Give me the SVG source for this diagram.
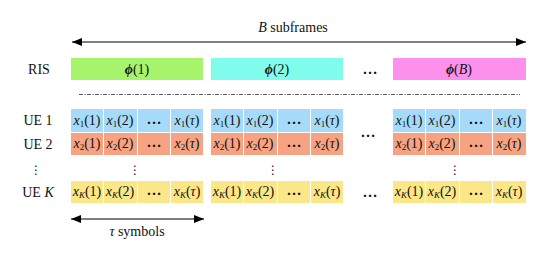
<svg xmlns="http://www.w3.org/2000/svg" width="549" height="263" viewBox="0 0 549 263">
<defs>
<marker id="ah" viewBox="0 0 10 8" refX="10" refY="4" markerWidth="10" markerHeight="8" markerUnits="userSpaceOnUse" orient="auto-start-reverse">
<path d="M0,0 L10,4 L0,8 Z" fill="#000"/>
</marker>
</defs>
<style>
text{font-family:"Liberation Serif","DejaVu Serif",serif;fill:#111}
.lbl{font-size:14px}
.c{font-size:14px;text-anchor:middle}
.i{font-style:italic}
.sub{font-size:9px}
.u1{fill:#a5dbf8}
.u2{fill:#f6a383}
.uk{fill:#fbe688}
.el{font-size:15px;text-anchor:middle;font-weight:bold}
.dots{font-family:"DejaVu Sans",sans-serif;font-size:12px;text-anchor:middle}
.arr{stroke:#000;stroke-width:1.2;fill:none;marker-start:url(#ah);marker-end:url(#ah)}
</style>
<rect width="549" height="263" fill="#fff"/>

<g id="connectors">
<line class="arr" x1="72" y1="42" x2="526" y2="42"/>
<line class="arr" x1="71" y1="219" x2="204" y2="219"/>
<line x1="79" y1="94.5" x2="520" y2="94.5" stroke="#555" stroke-width="1" stroke-dasharray="4 1.5 1 1.5"/>
</g>

<g id="labels">
<text class="lbl" x="293" y="32" text-anchor="middle"><tspan class="i">B</tspan> subframes</text>
<text class="lbl" x="137" y="236" text-anchor="middle"><tspan class="i">τ</tspan> symbols</text>
<text class="lbl" x="39" y="74" text-anchor="middle">RIS</text>
<text class="lbl" x="38" y="125" text-anchor="middle">UE 1</text>
<text class="lbl" x="38" y="149" text-anchor="middle">UE 2</text>
<text class="dots" x="36" y="174">⋮</text>
<text class="lbl" x="38" y="197" text-anchor="middle">UE <tspan class="i">K</tspan></text>
<text class="el" x="370" y="74">…</text>
<text class="el" x="368" y="137">…</text>
<text class="el" x="370" y="197">…</text>
</g>

<g id="ris">
<rect x="71" y="58" width="132" height="22" fill="#a6f46b"/>
<text class="c" x="137" y="74"><tspan font-weight="bold" class="i">ϕ</tspan>(1)</text>
<rect x="211" y="58" width="132" height="22" fill="#80fcec"/>
<text class="c" x="277" y="74"><tspan font-weight="bold" class="i">ϕ</tspan>(2)</text>
<rect x="393" y="58" width="133" height="22" fill="#fd90ec"/>
<text class="c" x="459" y="74"><tspan font-weight="bold" class="i">ϕ</tspan>(<tspan class="i">B</tspan>)</text>
</g>

<g id="block1">
<rect class="u1" x="71" y="109" width="32" height="23"/><rect class="u1" x="104" y="109" width="33" height="23"/><rect class="u1" x="138" y="109" width="32" height="23"/><rect class="u1" x="171" y="109" width="32" height="23"/>
<text class="c" x="87" y="125"><tspan class="i">x</tspan><tspan class="sub" dy="2">1</tspan><tspan dy="-2">(1)</tspan></text>
<text class="c" x="120" y="125"><tspan class="i">x</tspan><tspan class="sub" dy="2">1</tspan><tspan dy="-2">(2)</tspan></text>
<text class="el" x="154" y="124">…</text>
<text class="c" x="187" y="125"><tspan class="i">x</tspan><tspan class="sub" dy="2">1</tspan><tspan dy="-2">(</tspan><tspan class="i">τ</tspan>)</text>
<rect class="u2" x="71" y="133" width="32" height="22"/><rect class="u2" x="104" y="133" width="33" height="22"/><rect class="u2" x="138" y="133" width="32" height="22"/><rect class="u2" x="171" y="133" width="32" height="22"/>
<text class="c" x="87" y="148"><tspan class="i">x</tspan><tspan class="sub" dy="2">2</tspan><tspan dy="-2">(1)</tspan></text>
<text class="c" x="120" y="148"><tspan class="i">x</tspan><tspan class="sub" dy="2">2</tspan><tspan dy="-2">(2)</tspan></text>
<text class="el" x="154" y="147">…</text>
<text class="c" x="187" y="148"><tspan class="i">x</tspan><tspan class="sub" dy="2">2</tspan><tspan dy="-2">(</tspan><tspan class="i">τ</tspan>)</text>
<text class="dots" x="135" y="174">⋮</text>
<rect class="uk" x="71" y="181" width="32" height="22"/><rect class="uk" x="104" y="181" width="33" height="22"/><rect class="uk" x="138" y="181" width="32" height="22"/><rect class="uk" x="171" y="181" width="32" height="22"/>
<text class="c" x="87" y="196"><tspan class="i">x</tspan><tspan class="sub i" dy="2">K</tspan><tspan dy="-2">(1)</tspan></text>
<text class="c" x="120" y="196"><tspan class="i">x</tspan><tspan class="sub i" dy="2">K</tspan><tspan dy="-2">(2)</tspan></text>
<text class="el" x="154" y="195">…</text>
<text class="c" x="187" y="196"><tspan class="i">x</tspan><tspan class="sub i" dy="2">K</tspan><tspan dy="-2">(</tspan><tspan class="i">τ</tspan>)</text>
</g>

<g id="block2">
<rect class="u1" x="211" y="109" width="32" height="23"/><rect class="u1" x="244" y="109" width="33" height="23"/><rect class="u1" x="278" y="109" width="32" height="23"/><rect class="u1" x="311" y="109" width="32" height="23"/>
<text class="c" x="227" y="125"><tspan class="i">x</tspan><tspan class="sub" dy="2">1</tspan><tspan dy="-2">(1)</tspan></text>
<text class="c" x="260" y="125"><tspan class="i">x</tspan><tspan class="sub" dy="2">1</tspan><tspan dy="-2">(2)</tspan></text>
<text class="el" x="294" y="124">…</text>
<text class="c" x="327" y="125"><tspan class="i">x</tspan><tspan class="sub" dy="2">1</tspan><tspan dy="-2">(</tspan><tspan class="i">τ</tspan>)</text>
<rect class="u2" x="211" y="133" width="32" height="22"/><rect class="u2" x="244" y="133" width="33" height="22"/><rect class="u2" x="278" y="133" width="32" height="22"/><rect class="u2" x="311" y="133" width="32" height="22"/>
<text class="c" x="227" y="148"><tspan class="i">x</tspan><tspan class="sub" dy="2">2</tspan><tspan dy="-2">(1)</tspan></text>
<text class="c" x="260" y="148"><tspan class="i">x</tspan><tspan class="sub" dy="2">2</tspan><tspan dy="-2">(2)</tspan></text>
<text class="el" x="294" y="147">…</text>
<text class="c" x="327" y="148"><tspan class="i">x</tspan><tspan class="sub" dy="2">2</tspan><tspan dy="-2">(</tspan><tspan class="i">τ</tspan>)</text>
<text class="dots" x="273" y="174">⋮</text>
<rect class="uk" x="211" y="181" width="32" height="22"/><rect class="uk" x="244" y="181" width="33" height="22"/><rect class="uk" x="278" y="181" width="32" height="22"/><rect class="uk" x="311" y="181" width="32" height="22"/>
<text class="c" x="227" y="196"><tspan class="i">x</tspan><tspan class="sub i" dy="2">K</tspan><tspan dy="-2">(1)</tspan></text>
<text class="c" x="260" y="196"><tspan class="i">x</tspan><tspan class="sub i" dy="2">K</tspan><tspan dy="-2">(2)</tspan></text>
<text class="el" x="294" y="195">…</text>
<text class="c" x="327" y="196"><tspan class="i">x</tspan><tspan class="sub i" dy="2">K</tspan><tspan dy="-2">(</tspan><tspan class="i">τ</tspan>)</text>
</g>

<g id="block3">
<rect class="u1" x="393" y="109" width="32" height="23"/><rect class="u1" x="426" y="109" width="33" height="23"/><rect class="u1" x="460" y="109" width="32" height="23"/><rect class="u1" x="493" y="109" width="33" height="23"/>
<text class="c" x="409" y="125"><tspan class="i">x</tspan><tspan class="sub" dy="2">1</tspan><tspan dy="-2">(1)</tspan></text>
<text class="c" x="442" y="125"><tspan class="i">x</tspan><tspan class="sub" dy="2">1</tspan><tspan dy="-2">(2)</tspan></text>
<text class="el" x="476" y="124">…</text>
<text class="c" x="509" y="125"><tspan class="i">x</tspan><tspan class="sub" dy="2">1</tspan><tspan dy="-2">(</tspan><tspan class="i">τ</tspan>)</text>
<rect class="u2" x="393" y="133" width="32" height="22"/><rect class="u2" x="426" y="133" width="33" height="22"/><rect class="u2" x="460" y="133" width="32" height="22"/><rect class="u2" x="493" y="133" width="33" height="22"/>
<text class="c" x="409" y="148"><tspan class="i">x</tspan><tspan class="sub" dy="2">2</tspan><tspan dy="-2">(1)</tspan></text>
<text class="c" x="442" y="148"><tspan class="i">x</tspan><tspan class="sub" dy="2">2</tspan><tspan dy="-2">(2)</tspan></text>
<text class="el" x="476" y="147">…</text>
<text class="c" x="509" y="148"><tspan class="i">x</tspan><tspan class="sub" dy="2">2</tspan><tspan dy="-2">(</tspan><tspan class="i">τ</tspan>)</text>
<text class="dots" x="455" y="174">⋮</text>
<rect class="uk" x="393" y="181" width="32" height="22"/><rect class="uk" x="426" y="181" width="33" height="22"/><rect class="uk" x="460" y="181" width="32" height="22"/><rect class="uk" x="493" y="181" width="33" height="22"/>
<text class="c" x="409" y="196"><tspan class="i">x</tspan><tspan class="sub i" dy="2">K</tspan><tspan dy="-2">(1)</tspan></text>
<text class="c" x="442" y="196"><tspan class="i">x</tspan><tspan class="sub i" dy="2">K</tspan><tspan dy="-2">(2)</tspan></text>
<text class="el" x="476" y="195">…</text>
<text class="c" x="509" y="196"><tspan class="i">x</tspan><tspan class="sub i" dy="2">K</tspan><tspan dy="-2">(</tspan><tspan class="i">τ</tspan>)</text>
</g>
</svg>
